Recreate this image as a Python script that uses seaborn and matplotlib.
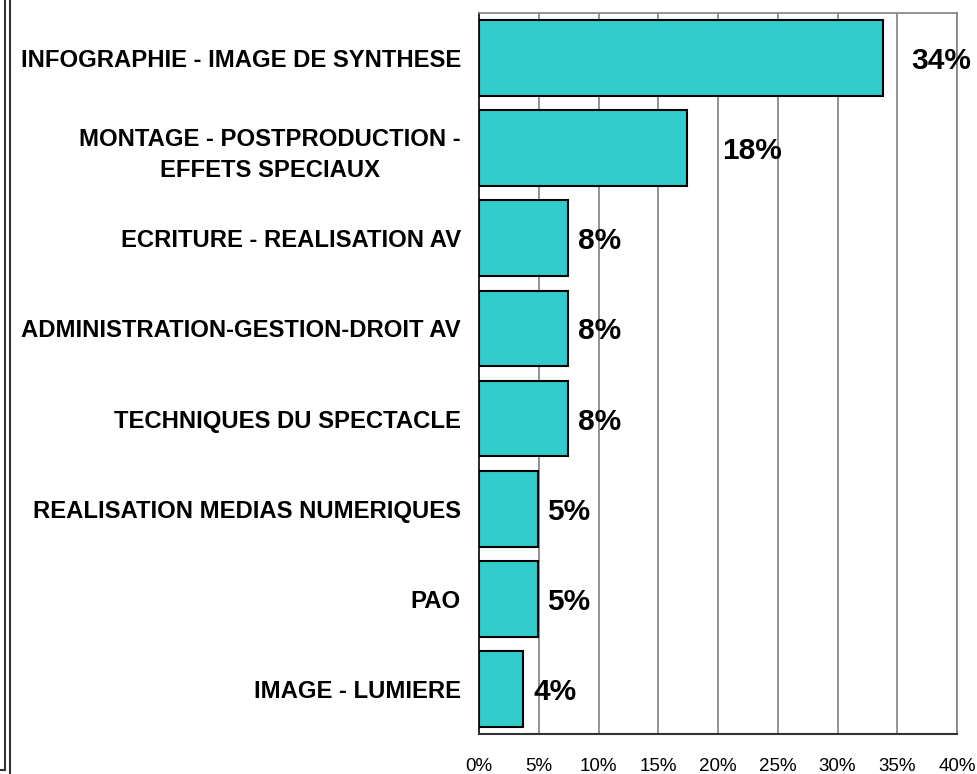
import numpy as np
import pandas as pd
import matplotlib
matplotlib.use("Agg")
import matplotlib.pyplot as plt
from matplotlib.lines import Line2D
import seaborn as sns

categories = [
    "INFOGRAPHIE - IMAGE DE SYNTHESE",
    "MONTAGE - POSTPRODUCTION -\nEFFETS SPECIAUX",
    "ECRITURE - REALISATION AV",
    "ADMINISTRATION-GESTION-DROIT AV",
    "TECHNIQUES DU SPECTACLE",
    "REALISATION MEDIAS NUMERIQUES",
    "PAO",
    "IMAGE - LUMIERE",
]
values = [33.8, 17.4, 7.45, 7.45, 7.45, 4.9, 4.9, 3.7]
value_labels = ["34%", "18%", "8%", "8%", "8%", "5%", "5%", "4%"]
xticks = [0, 5, 10, 15, 20, 25, 30, 35, 40]
xtick_labels = ["0%", "5%", "10%", "15%", "20%", "25%", "30%", "35%", "40%"]

label_dx = [28, 35, 10, 10, 10, 10, 10, 10]

sns.set_style("white")
plt.rcParams["font.family"] = ["Liberation Sans", "DejaVu Sans"]
plt.rcParams["text.color"] = "black"
plt.rcParams["xtick.color"] = "black"
plt.rcParams["ytick.color"] = "black"
plt.rcParams["axes.labelcolor"] = "black"

df = pd.DataFrame({"cat": categories, "val": values})

fig = plt.figure(figsize=(9.78, 7.74), dpi=100)
ax = fig.add_axes([479 / 978, 1 - 734 / 774, (957 - 479) / 978, (734 - 13) / 774])

sns.barplot(data=df, y="cat", x="val", orient="h", color="#33CCCC",
            saturation=1, width=0.84, edgecolor="black", linewidth=1.5,
            ax=ax, zorder=3)

ax.set_xlim(0, 40)
ax.set_ylim(7.5, -0.5)
ax.set_xticks(xticks)
ax.set_xticklabels(xtick_labels, fontsize=13.5, color="black")
ax.set_xlabel("")
ax.set_ylabel("")
ax.set_yticks(range(len(categories)))
ax.set_yticklabels(categories, fontsize=17.2, fontweight="bold",
                   multialignment="center", linespacing=1.45, color="black")
ax.set_yticks(np.arange(-0.5, len(categories), 1), minor=True)
ax.tick_params(axis="y", which="major", length=0, pad=13)
ax.tick_params(axis="y", which="minor", length=6, direction="out", width=1, color="black")
ax.tick_params(axis="x", which="major", length=5, direction="out", width=1, color="#444444", pad=12)

for x in xticks[1:]:
    ax.axvline(x, color="#808080", linewidth=1.2, zorder=1)

for s in ["top", "right"]:
    ax.spines[s].set_color("#808080")
    ax.spines[s].set_linewidth(1.2)
ax.spines["left"].set_color("black")
ax.spines["left"].set_linewidth(1.2)
ax.spines["bottom"].set_color("#333333")
ax.spines["bottom"].set_linewidth(1.5)
ax.spines["bottom"].set_zorder(4)

for i, (v, lab) in enumerate(zip(values, value_labels)):
    ax.annotate(lab, xy=(v, i), xytext=(label_dx[i], -3), textcoords="offset pixels",
                ha="left", va="center", fontsize=21.5, fontweight="bold",
                color="black", annotation_clip=False, zorder=5)

# double border at left edge
fig.add_artist(Line2D([4.5 / 978, 4.5 / 978], [1, 4 / 774], color="#333333", linewidth=1.5))
fig.add_artist(Line2D([0, 4.5 / 978], [4 / 774, 4 / 774], color="#333333", linewidth=1.5))
fig.add_artist(Line2D([9.5 / 978, 9.5 / 978], [0, 1], color="#333333", linewidth=1.5))

fig.savefig("out.png", dpi=100)
